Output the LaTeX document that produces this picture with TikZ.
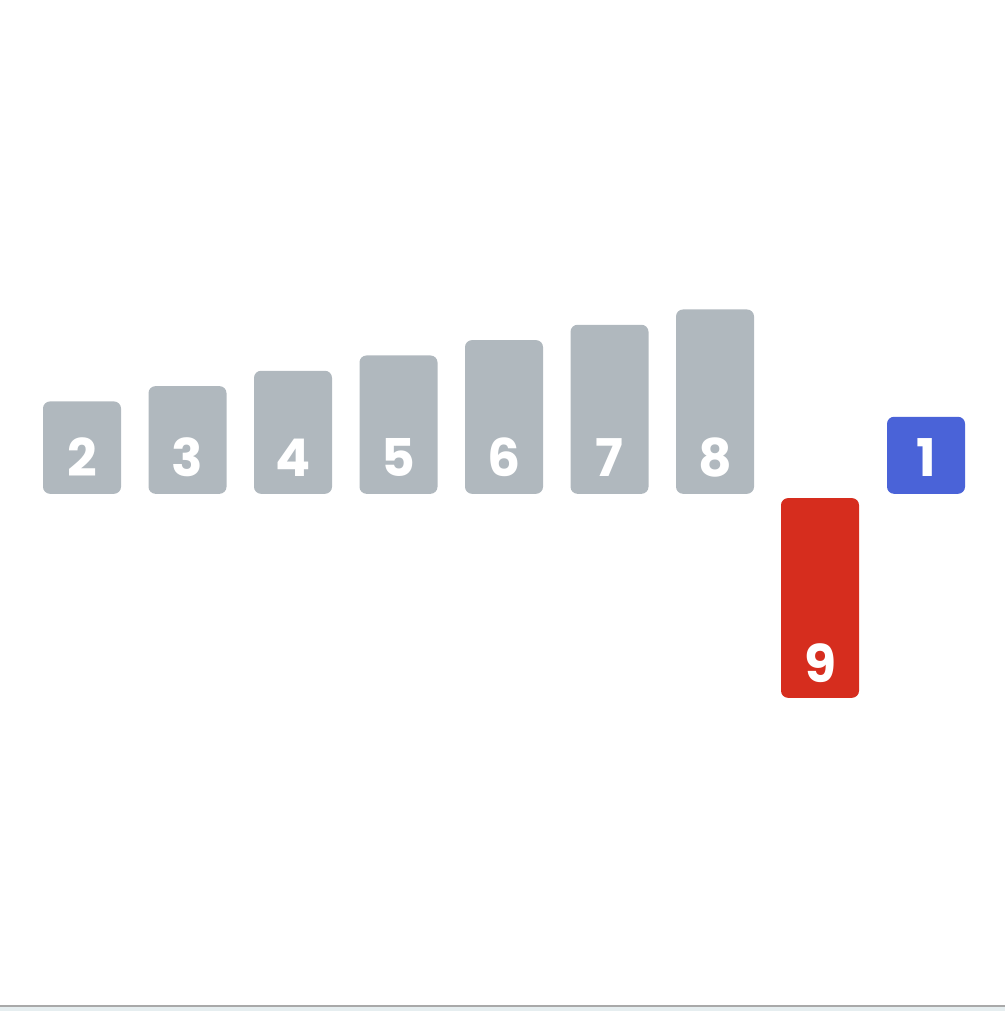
\documentclass[tikz,border=0pt]{standalone}
\usepackage{fontspec}
\newfontfamily\numfont{Poppins}
\usepackage{tikz}
\usetikzlibrary{positioning}
\definecolor{idle}{HTML}{B0B8BE}
\definecolor{pivot}{HTML}{D62D1E}
\definecolor{moved}{HTML}{4A63D8}
\definecolor{rule}{HTML}{A9A9A9}
\definecolor{floor}{HTML}{E6EEF0}

\begin{document}
\begin{tikzpicture}[yscale=-1, x=1pt, y=1pt,
  bar/.style={rectangle, rounded corners=7pt, minimum width=78pt, inner sep=0pt, anchor=south},
  num/.style={text=white, font=\numfont\bfseries\fontsize{52}{52}\selectfont, anchor=base, inner sep=0pt}]
\useasboundingbox (0,0) rectangle (1005,1011);
% sorted part, grey bars
\foreach \v in {2,...,8}{
  \pgfmathsetmacro\xc{82+105.5*(\v-2)}
  \node[bar, fill=idle, minimum height={61.7pt+15.33pt*\v}] (b\v) at (\xc,494) {};
  \node[num] (n\v) at (\xc,476) {\v};
}
% current element, dropped below the row
\node[bar, fill=pivot, minimum height={61.7pt+15.33pt*9}] (b9) at (820,698) {};
\node[num] (n9) at (820,682) {9};
% smallest element
\node[bar, fill=moved, minimum height={61.7pt+15.33pt}] (b1) at (926,494) {};
\node[num] (n1) at (926,476) {1};
% bottom edge
\fill[floor] (0,1007) rectangle (1005,1011);
\draw[rule, line width=2pt] (0,1006) -- (1005,1006);
\end{tikzpicture}
\end{document}
